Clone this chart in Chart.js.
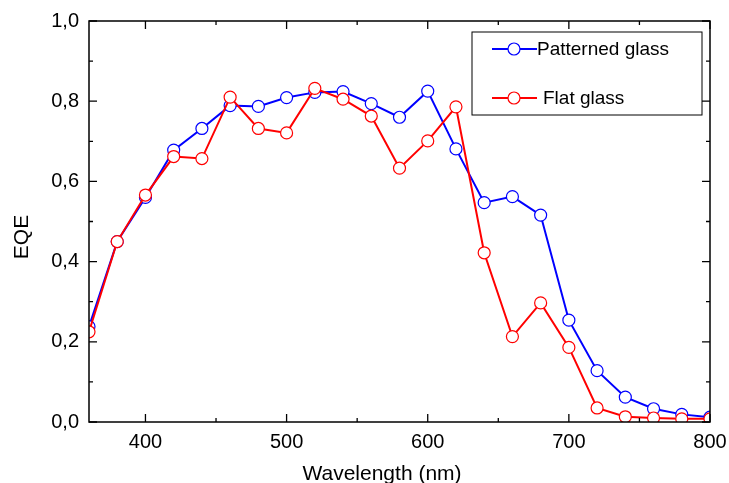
<!DOCTYPE html>
<html lang="en">
<head>
  <meta charset="UTF-8">
  <title>EQE vs Wavelength</title>
  <script src="https://cdn.jsdelivr.net/npm/chart.js@4.4.0/dist/chart.umd.min.js"></script>
  <style>
    body { margin: 0; background: #ffffff; }
    #wrap { width: 729px; height: 483px; position: relative; }
  </style>
</head>
<body>
  <div id="wrap"><canvas id="eqeChart"></canvas></div>

  <script>
    // wavelengths (nm)
    const wavelengths = [360, 380, 400, 420, 440, 460, 480, 500, 520, 540, 560, 580,
                         600, 620, 640, 660, 680, 700, 720, 740, 760, 780, 800];
    const patternedGlass = [0.238, 0.45, 0.56, 0.678, 0.732, 0.789, 0.787, 0.809, 0.822, 0.824, 0.794, 0.760,
                            0.825, 0.681, 0.547, 0.562, 0.516, 0.254, 0.128, 0.062, 0.033, 0.019, 0.012];
    const flatGlass = [0.225, 0.45, 0.566, 0.662, 0.657, 0.810, 0.732, 0.721, 0.832, 0.805, 0.763, 0.633,
                       0.701, 0.786, 0.422, 0.213, 0.297, 0.186, 0.035, 0.013, 0.010, 0.008, 0.008];
    const xTickValues = [400, 500, 600, 700, 800];
    const xMinorTicks = [450, 550, 650, 750];
    const yTickValues = [0, 0.2, 0.4, 0.6, 0.8, 1.0];
    const yMinorTicks = [0.1, 0.3, 0.5, 0.7, 0.9];

    const FONT = "'Liberation Sans', Arial, sans-serif";

    function toPoints(values) {
      return wavelengths.map((w, i) => ({ x: w, y: values[i] }));
    }

    // frame, inward ticks, axis titles and legend
    const framePlugin = {
      id: 'frame',
      afterDraw(chart) {
        const ctx = chart.ctx;
        const area = chart.chartArea;
        const xs = chart.scales.x;
        const ys = chart.scales.y;
        ctx.save();
        ctx.strokeStyle = '#000';
        ctx.lineWidth = 1.5;
        ctx.strokeRect(area.left, area.top, area.right - area.left, area.bottom - area.top);

        ctx.lineWidth = 1.3;
        ctx.beginPath();
        const xTick = (v, len) => {
          const px = xs.getPixelForValue(v);
          ctx.moveTo(px, area.bottom); ctx.lineTo(px, area.bottom - len);
          ctx.moveTo(px, area.top); ctx.lineTo(px, area.top + len);
        };
        const yTick = (v, len) => {
          const py = ys.getPixelForValue(v);
          ctx.moveTo(area.left, py); ctx.lineTo(area.left + len, py);
          ctx.moveTo(area.right, py); ctx.lineTo(area.right - len, py);
        };
        xTickValues.forEach(v => xTick(v, 8));
        xMinorTicks.forEach(v => xTick(v, 4));
        yTickValues.forEach(v => yTick(v, 8));
        yMinorTicks.forEach(v => yTick(v, 4));
        ctx.stroke();

        // axis titles
        ctx.fillStyle = '#000';
        ctx.font = '21px ' + FONT;
        ctx.textAlign = 'center';
        ctx.textBaseline = 'middle';
        ctx.fillText('Wavelength (nm)', 382, 474);
        ctx.save();
        ctx.translate(22, 237);
        ctx.rotate(-Math.PI / 2);
        ctx.fillText('EQE', 0, 0);
        ctx.restore();

        // legend
        ctx.lineWidth = 1;
        ctx.strokeStyle = '#000';
        ctx.strokeRect(472, 32, 230, 83);
        const entries = [
          { label: 'Patterned glass', color: '#0000ff', y: 49, tx: 537 },
          { label: 'Flat glass', color: '#ff0000', y: 98, tx: 543 }
        ];
        entries.forEach(e => {
          ctx.strokeStyle = e.color;
          ctx.lineWidth = 2;
          ctx.beginPath();
          ctx.moveTo(492, e.y); ctx.lineTo(537, e.y);
          ctx.stroke();
          ctx.beginPath();
          ctx.arc(514, e.y, 6, 0, Math.PI * 2);
          ctx.fillStyle = '#fff';
          ctx.fill();
          ctx.lineWidth = 1.2;
          ctx.stroke();
          ctx.fillStyle = '#000';
          ctx.font = '19px ' + FONT;
          ctx.textAlign = 'left';
          ctx.fillText(e.label, e.tx, e.y + 1);
        });
        ctx.restore();
      }
    };

    const ctx = document.getElementById('eqeChart').getContext('2d');
    new Chart(ctx, {
      type: 'line',
      data: {
        datasets: [
          {
            label: 'Patterned glass',
            data: toPoints(patternedGlass),
            borderColor: '#0000ff',
            borderWidth: 2,
            pointRadius: 6,
            pointBorderWidth: 1.2,
            pointBorderColor: '#0000ff',
            pointBackgroundColor: '#ffffff',
            clip: 0,
            order: 1
          },
          {
            label: 'Flat glass',
            data: toPoints(flatGlass),
            borderColor: '#ff0000',
            borderWidth: 2,
            pointRadius: 6,
            pointBorderWidth: 1.2,
            pointBorderColor: '#ff0000',
            pointBackgroundColor: '#ffffff',
            clip: 0,
            order: 0
          }
        ]
      },
      options: {
        responsive: true,
        maintainAspectRatio: false,
        animation: false,
        layout: { padding: { top: 21, right: 19, left: 0, bottom: 0 } },
        plugins: {
          legend: { display: false },
          tooltip: { enabled: false }
        },
        scales: {
          x: {
            type: 'linear',
            min: 360,
            max: 800,
            grid: { display: false, drawTicks: false },
            border: { display: false },
            afterBuildTicks: s => { s.ticks = xTickValues.map(v => ({ value: v })); },
            afterFit: s => { s.height = 61; s.paddingLeft = 0; s.paddingRight = 0; },
            ticks: {
              color: '#000',
              padding: 8,
              maxRotation: 0,
              font: { family: FONT, size: 20 }
            }
          },
          y: {
            min: 0,
            max: 1,
            grid: { display: false, drawTicks: false },
            border: { display: false },
            afterBuildTicks: s => { s.ticks = yTickValues.map(v => ({ value: v })); },
            afterFit: s => { s.width = 89; s.paddingTop = 0; s.paddingBottom = 0; },
            ticks: {
              color: '#000',
              padding: 10,
              font: { family: FONT, size: 20 },
              callback: v => v.toFixed(1).replace('.', ',')
            }
          }
        }
      },
      plugins: [framePlugin]
    });
  </script>
</body>
</html>
